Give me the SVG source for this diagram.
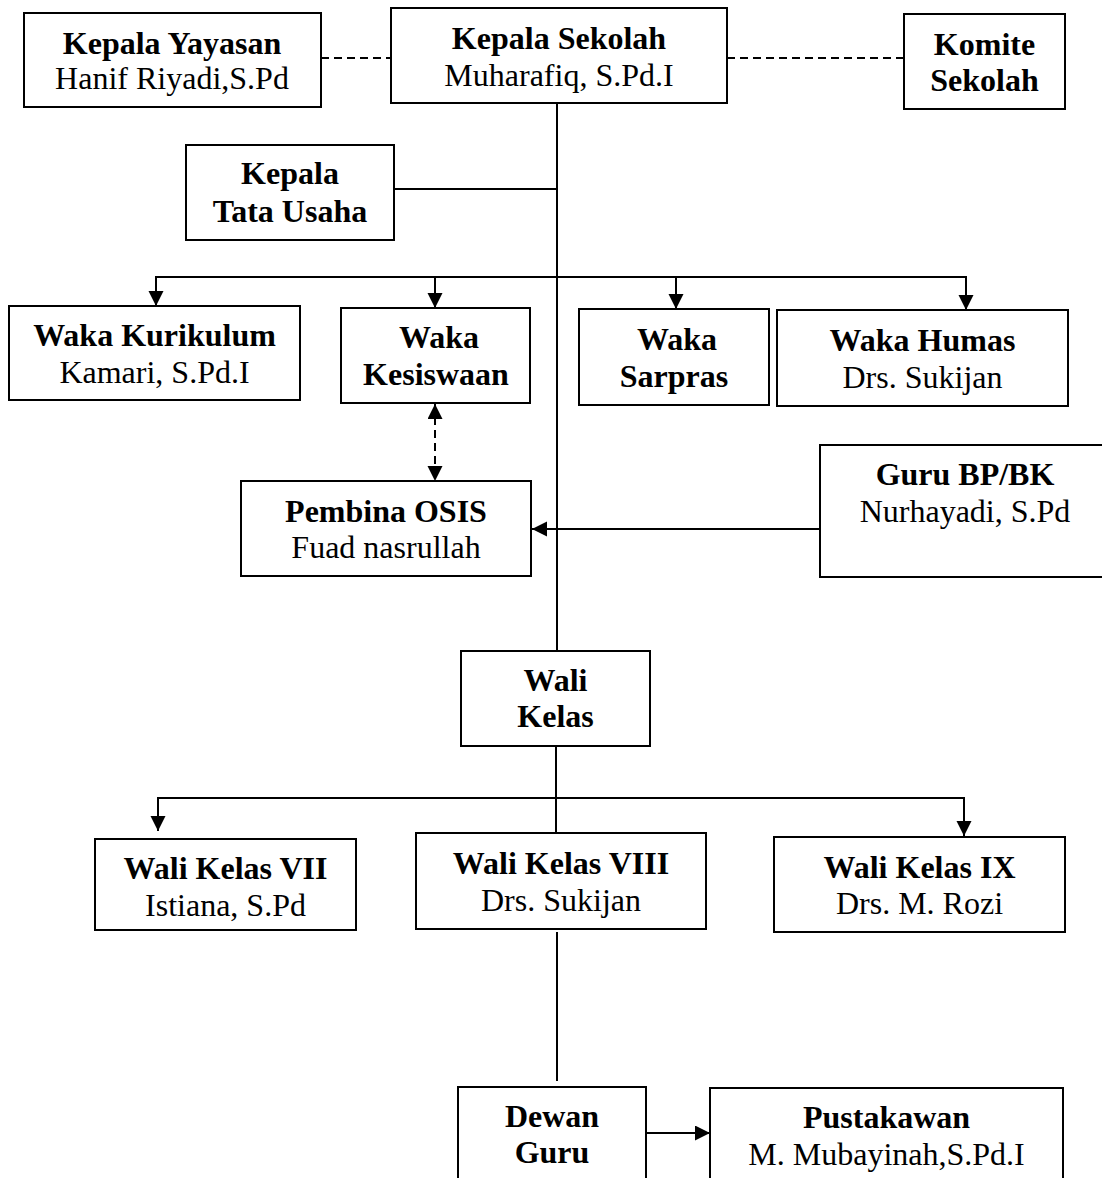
<svg xmlns="http://www.w3.org/2000/svg" width="1102" height="1178" viewBox="0 0 1102 1178">
<defs>
<style>
.box{fill:#fff;stroke:#000;stroke-width:2}
.t{font-family:"Liberation Serif","Times New Roman",serif;font-size:32px;fill:#000;text-anchor:middle}
.b{font-weight:bold}
.ln{fill:none;stroke:#000;stroke-width:2}
.ds{stroke-dasharray:8 5}
</style>
<marker id="ah" markerUnits="userSpaceOnUse" markerWidth="16" markerHeight="16" refX="15" refY="7.5" orient="auto-start-reverse" viewBox="0 0 16 16">
<path d="M0,0 L15,7.5 L0,15 z" fill="#000"/>
</marker>
</defs>
<rect width="1102" height="1178" fill="#fff"/>
<g id="connectors">
<line class="ln ds" x1="321" y1="58" x2="391" y2="58"/>
<line class="ln ds" x1="727" y1="58" x2="904" y2="58"/>
<line class="ln" x1="557" y1="103" x2="557" y2="651"/>
<line class="ln" x1="394" y1="189" x2="557" y2="189"/>
<polyline class="ln" points="156,277 966,277"/>
<line class="ln" x1="156" y1="276" x2="156" y2="306" marker-end="url(#ah)"/>
<line class="ln" x1="435" y1="276" x2="435" y2="308" marker-end="url(#ah)"/>
<line class="ln" x1="676" y1="276" x2="676" y2="309" marker-end="url(#ah)"/>
<line class="ln" x1="966" y1="276" x2="966" y2="310" marker-end="url(#ah)"/>
<line class="ln ds" x1="435" y1="404" x2="435" y2="481" marker-start="url(#ah)" marker-end="url(#ah)"/>
<line class="ln" x1="820" y1="529" x2="532" y2="529" marker-end="url(#ah)"/>
<line class="ln" x1="556" y1="746" x2="556" y2="833"/>
<polyline class="ln" points="158,798 964,798"/>
<line class="ln" x1="158" y1="797" x2="158" y2="831" marker-end="url(#ah)"/>
<line class="ln" x1="964" y1="797" x2="964" y2="836" marker-end="url(#ah)"/>
<line class="ln" x1="557" y1="932" x2="557" y2="1081"/>
<line class="ln" x1="646" y1="1133" x2="710" y2="1133" marker-end="url(#ah)"/>
</g>
<g id="kepala-yayasan">
<rect class="box" x="24" y="13" width="297" height="94"/>
<text class="t b" x="172" y="54">Kepala Yayasan</text>
<text class="t" x="172" y="89">Hanif Riyadi,S.Pd</text>
</g>
<g id="kepala-sekolah">
<rect class="box" x="391" y="8" width="336" height="95"/>
<text class="t b" x="559" y="49">Kepala Sekolah</text>
<text class="t" x="559" y="86">Muharafiq, S.Pd.I</text>
</g>
<g id="komite-sekolah">
<rect class="box" x="904" y="14" width="161" height="95"/>
<text class="t b" x="984.5" y="55">Komite</text>
<text class="t b" x="984.5" y="91">Sekolah</text>
</g>
<g id="kepala-tata-usaha">
<rect class="box" x="186" y="145" width="208" height="95"/>
<text class="t b" x="290" y="184">Kepala</text>
<text class="t b" x="290" y="222">Tata Usaha</text>
</g>
<g id="waka-kurikulum">
<rect class="box" x="9" y="306" width="291" height="94"/>
<text class="t b" x="154.5" y="346">Waka Kurikulum</text>
<text class="t" x="154.5" y="383">Kamari, S.Pd.I</text>
</g>
<g id="waka-kesiswaan">
<rect class="box" x="341" y="308" width="189" height="95"/>
<text class="t b" x="439" y="348">Waka</text>
<text class="t b" x="436" y="385">Kesiswaan</text>
</g>
<g id="waka-sarpras">
<rect class="box" x="579" y="309" width="190" height="96"/>
<text class="t b" x="677" y="350">Waka</text>
<text class="t b" x="674" y="387">Sarpras</text>
</g>
<g id="waka-humas">
<rect class="box" x="777" y="310" width="291" height="96"/>
<text class="t b" x="922.5" y="351">Waka Humas</text>
<text class="t" x="922.5" y="388">Drs. Sukijan</text>
</g>
<g id="pembina-osis">
<rect class="box" x="241" y="481" width="290" height="95"/>
<text class="t b" x="386" y="522">Pembina OSIS</text>
<text class="t" x="386" y="558">Fuad nasrullah</text>
</g>
<g id="guru-bp-bk">
<rect class="box" x="820" y="445" width="292" height="132"/>
<text class="t b" x="965" y="485">Guru BP/BK</text>
<text class="t" x="965" y="522">Nurhayadi, S.Pd</text>
</g>
<g id="wali-kelas">
<rect class="box" x="461" y="651" width="189" height="95"/>
<text class="t b" x="555.5" y="691">Wali</text>
<text class="t b" x="555.5" y="727">Kelas</text>
</g>
<g id="wali-kelas-vii">
<rect class="box" x="95" y="839" width="261" height="91"/>
<text class="t b" x="225.5" y="879">Wali Kelas VII</text>
<text class="t" x="225.5" y="916">Istiana, S.Pd</text>
</g>
<g id="wali-kelas-viii">
<rect class="box" x="416" y="833" width="290" height="96"/>
<text class="t b" x="561" y="874">Wali Kelas VIII</text>
<text class="t" x="561" y="911">Drs. Sukijan</text>
</g>
<g id="wali-kelas-ix">
<rect class="box" x="774" y="837" width="291" height="95"/>
<text class="t b" x="919.5" y="878">Wali Kelas IX</text>
<text class="t" x="919.5" y="914">Drs. M. Rozi</text>
</g>
<g id="dewan-guru">
<rect class="box" x="458" y="1087" width="188" height="120"/>
<text class="t b" x="552" y="1127">Dewan</text>
<text class="t b" x="552" y="1163">Guru</text>
</g>
<g id="pustakawan">
<rect class="box" x="710" y="1088" width="353" height="120"/>
<text class="t b" x="886.5" y="1128">Pustakawan</text>
<text class="t" x="886.5" y="1165">M. Mubayinah,S.Pd.I</text>
</g>
</svg>
